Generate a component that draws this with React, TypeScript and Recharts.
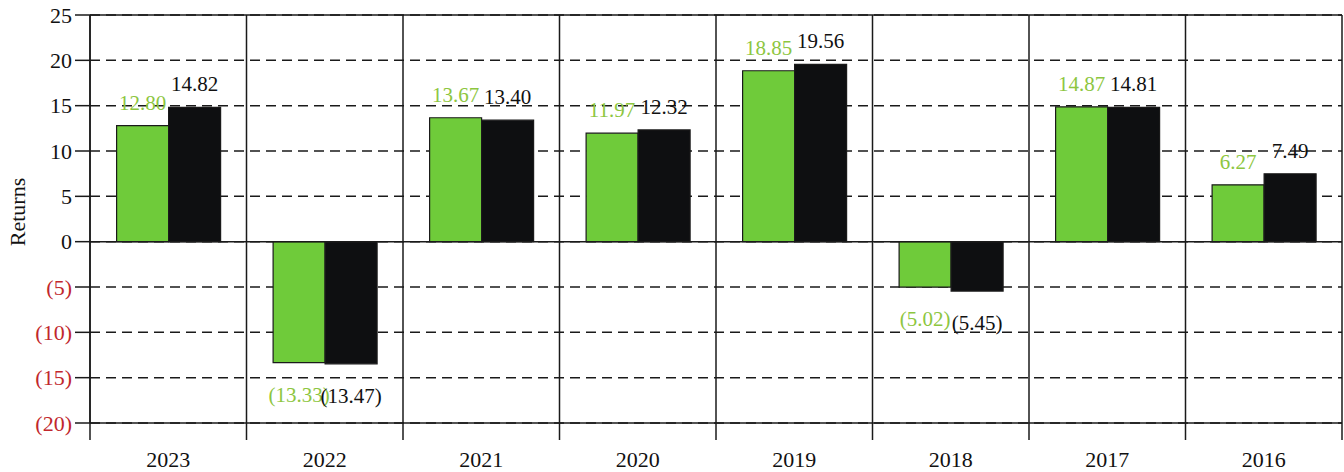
import React from "react";
import {
  BarChart,
  Bar,
  XAxis,
  YAxis,
  CartesianGrid,
  ReferenceLine,
  LabelList,
} from "recharts";

const years = ["2023", "2022", "2021", "2020", "2019", "2018", "2017", "2016"];
const fundReturns = [12.8, -13.33, 13.67, 11.97, 18.85, -5.02, 14.87, 6.27];
const benchReturns = [14.82, -13.47, 13.4, 12.32, 19.56, -5.45, 14.81, 7.49];
const yTicks = [-20, -15, -10, -5, 0, 5, 10, 15, 20, 25];

const CHART_W = 1344;
const CHART_H = 472;
const MARGIN = { top: 15, right: 2, bottom: 0, left: 0 };
const Y_AXIS_W = 90;
const X_AXIS_H = 49;
const PLOT_W = CHART_W - MARGIN.left - MARGIN.right - Y_AXIS_W;
const BAND = PLOT_W / years.length;

const FONT = '"Liberation Serif", "Times New Roman", serif';
const GREEN = "#6fcb3a";
const GREEN_TEXT = "#8dc63f";
const BLACK = "#0e0f11";
const RED = "#c1272d";
const LINE = "#1a1a1a";

const data = years.map((year, i) => ({
  year,
  fund: fundReturns[i],
  bench: benchReturns[i],
}));

const fmt = (v: number) => (v < 0 ? `(${Math.abs(v).toFixed(2)})` : v.toFixed(2));

function YTick(props: any) {
  const { x, y, payload } = props;
  const v = payload.value as number;
  return (
    <text
      x={x}
      y={y}
      dy="0.35em"
      textAnchor="end"
      fontFamily={FONT}
      fontSize={22}
      fill={v < 0 ? RED : "#111"}
    >
      {v < 0 ? `(${Math.abs(v)})` : v}
    </text>
  );
}

function XTick(props: any) {
  const { x, y, payload, index } = props;
  const left = x - BAND / 2;
  const right = x + BAND / 2;
  return (
    <g>
      <line x1={left} x2={left} y1={y} y2={y + 17} stroke={LINE} strokeWidth={1.5} />
      {index === years.length - 1 && (
        <line x1={right} x2={right} y1={y} y2={y + 17} stroke={LINE} strokeWidth={1.5} />
      )}
      <text x={x} y={y + 44} textAnchor="middle" fontFamily={FONT} fontSize={22} fill="#111">
        {payload.value}
      </text>
    </g>
  );
}

const makeLabel = (color: string) => (props: any) => {
  const vb = props.viewBox ?? props;
  const { x, y, width, height } = vb;
  const value = props.value as number;
  const top = Math.min(y, y + height);
  const bottom = Math.max(y, y + height);
  const cx = x + width / 2;
  const ty = value >= 0 ? top - 16 : bottom + 39;
  return (
    <text x={cx} y={ty} textAnchor="middle" fontFamily={FONT} fontSize={21} fill={color}>
      {fmt(value)}
    </text>
  );
};

export default function App() {
  return (
    <div style={{ position: "absolute", left: 0, top: 0, background: "#fff" }}>
      <BarChart
        width={CHART_W}
        height={CHART_H}
        data={data}
        margin={MARGIN}
        barCategoryGap="17%"
        barGap={0}
      >
        <CartesianGrid
          vertical={false}
          stroke={LINE}
          strokeWidth={1.5}
          strokeDasharray="10 6"
        />
        <CartesianGrid
          horizontal={false}
          stroke={LINE}
          strokeWidth={1.5}
          verticalCoordinatesGenerator={({ offset }: any) =>
            years.map((_, i) => offset.left + i * BAND).concat(offset.left + PLOT_W)
          }
        />
        <XAxis
          dataKey="year"
          height={X_AXIS_H}
          axisLine={false}
          tickLine={false}
          tickSize={0}
          tickMargin={0}
          interval={0}
          tick={<XTick />}
        />
        <YAxis
          width={Y_AXIS_W}
          domain={[-20, 25]}
          ticks={yTicks}
          interval={0}
          tickSize={15}
          tickMargin={3}
          axisLine={{ stroke: LINE, strokeWidth: 1.5 }}
          tickLine={{ stroke: LINE, strokeWidth: 1.5 }}
          tick={<YTick />}
          label={{
            content: ({ viewBox }: any) => {
              const cy = viewBox.y + viewBox.height / 2 - 7;
              return (
                <text
                  x={17}
                  y={cy}
                  transform={`rotate(-90 17 ${cy})`}
                  textAnchor="middle"
                  dominantBaseline="central"
                  fontFamily={FONT}
                  fontSize={22}
                  fill="#111"
                >
                  Returns
                </text>
              );
            },
          }}
        />
        <ReferenceLine y={25} stroke={LINE} strokeWidth={1.5} />
        <ReferenceLine y={-20} stroke={LINE} strokeWidth={1.5} />
        <ReferenceLine y={0} stroke={LINE} strokeWidth={1.5} />
        <Bar dataKey="fund" fill={GREEN} stroke={LINE} strokeWidth={1.2} isAnimationActive={false}>
          <LabelList dataKey="fund" content={makeLabel(GREEN_TEXT)} />
        </Bar>
        <Bar dataKey="bench" fill={BLACK} stroke={LINE} strokeWidth={1.2} isAnimationActive={false}>
          <LabelList dataKey="bench" content={makeLabel("#111")} />
        </Bar>
      </BarChart>
    </div>
  );
}
